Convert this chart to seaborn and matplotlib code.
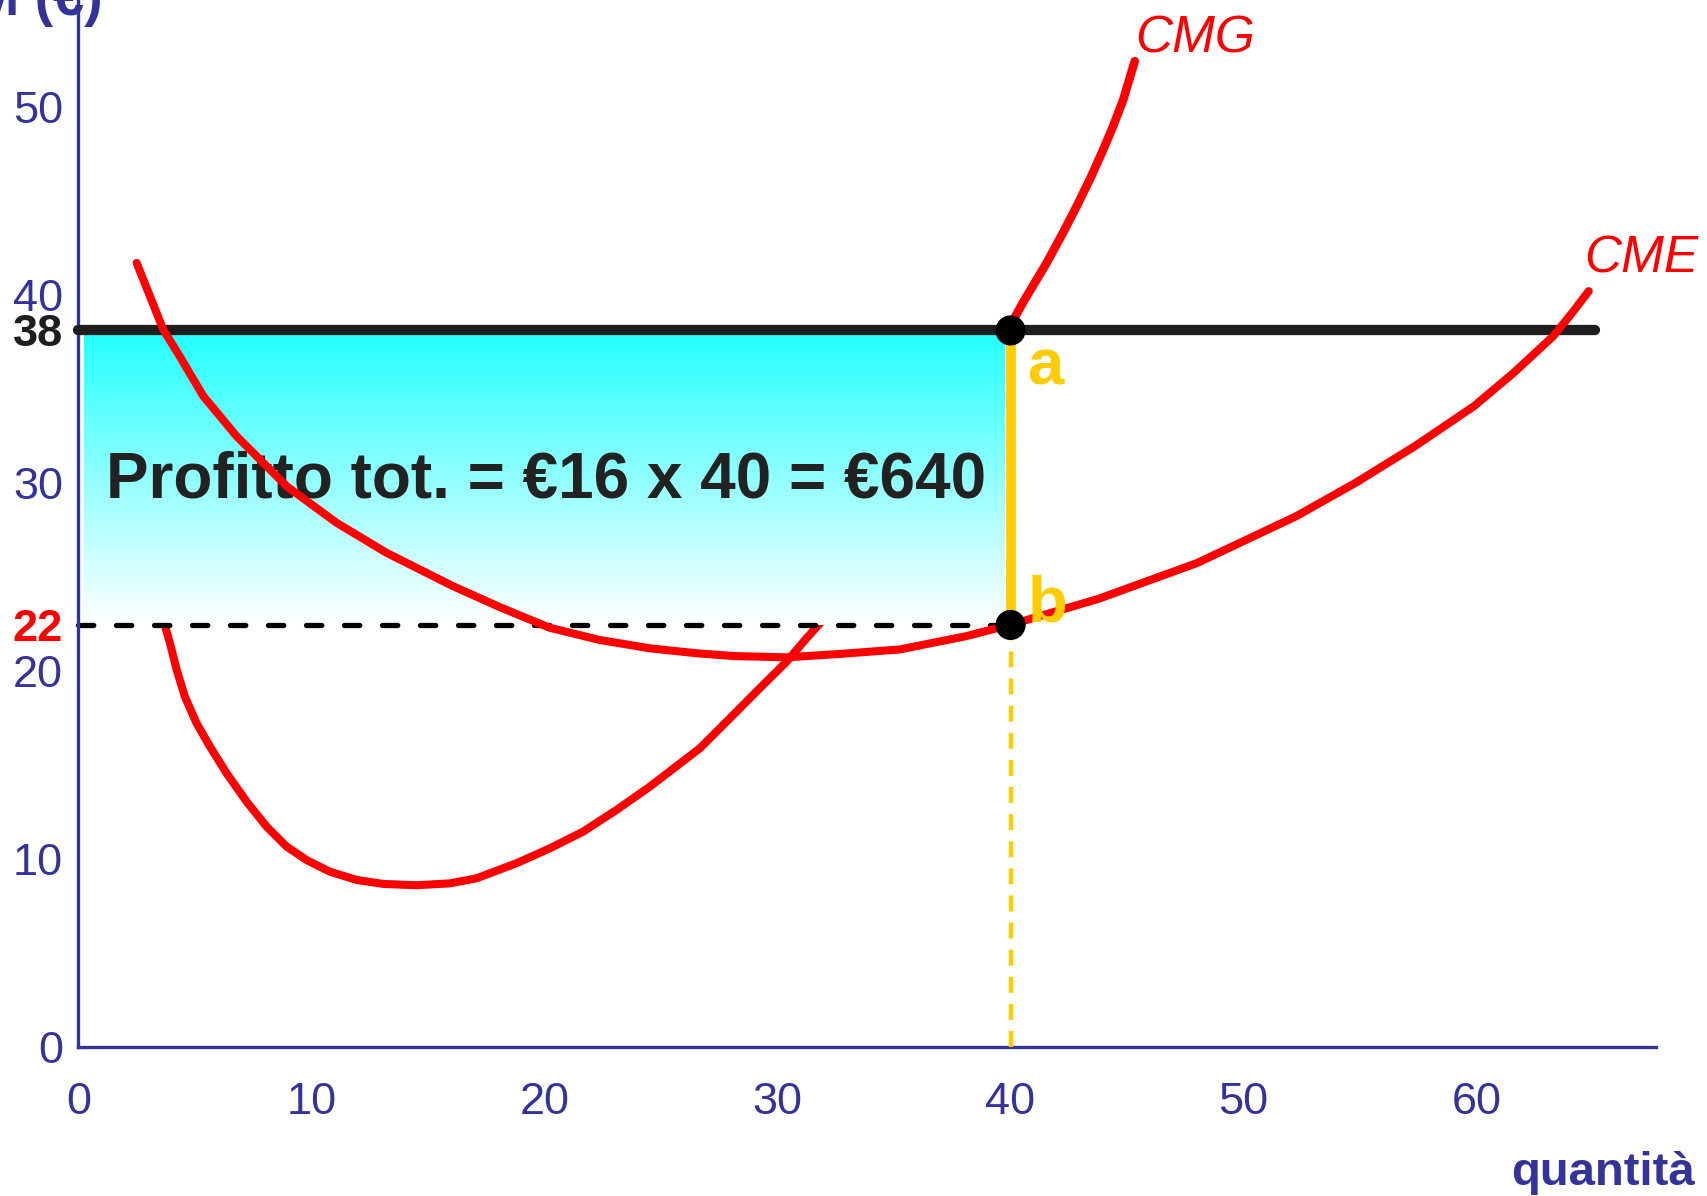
import numpy as np
import matplotlib
matplotlib.use("Agg")
import matplotlib.pyplot as plt
import seaborn as sns
from matplotlib.colors import LinearSegmentedColormap

# ---------------- data ----------------
x_ticks = [0, 10, 20, 30, 40, 50, 60]
y_ticks = [0, 10, 20, 30, 40, 50]

price_level = 38.1        # prezzo
avg_cost_level = 22.45    # costo medio in q*
price_label = "38"
avg_cost_label = "22"
q_star = 40

# CMG (marginal cost) lower branch
cmg_low_q = [3.64, 3.93, 4.22, 4.57, 5.07, 5.65, 6.36, 7.22, 8.08, 8.94,
             9.79, 10.79, 11.94, 13.08, 14.51, 15.94, 17.09, 18.80, 20.23, 21.66,
             23.09, 24.52, 26.67, 28.10, 29.24, 30.39, 31.24, 31.96]
cmg_low_v = [22.72, 21.48, 20.06, 18.64, 17.23, 15.98, 14.57, 13.06, 11.73, 10.67,
             9.96, 9.34, 8.90, 8.69, 8.62, 8.72, 8.99, 9.79, 10.58, 11.47,
             12.62, 13.86, 15.90, 17.67, 19.09, 20.50, 21.74, 22.72]
# CMG upper branch (above the price line)
cmg_up_q = [40.1, 40.54, 41.54, 42.25, 42.83, 43.4, 43.97, 44.4, 44.83, 45.33]
cmg_up_v = [38.6, 39.6, 41.67, 43.29, 44.68, 46.12, 47.69, 48.95, 50.34, 52.41]

# CME (average cost)
cme_q = [2.50, 3.64, 4.36, 5.36, 6.79, 8.94, 11.08, 13.23, 16.08, 18.08,
         20.23, 22.38, 24.52, 26.5, 28.10, 30.39, 32.67, 35.25, 38.11, 40.05,
         43.8, 48.02, 52.26, 54.8, 57.35, 59.89, 61.59, 63.29, 64.14, 64.81]
cme_v = [41.69, 38.15, 36.7, 34.61, 32.48, 29.82, 27.88, 26.28, 24.51, 23.4,
         22.3, 21.65, 21.21, 20.95, 20.80, 20.73, 20.91, 21.15, 21.86, 22.48,
         23.85, 25.75, 28.23, 30.0, 31.95, 34.08, 35.85, 37.80, 39.1, 40.19]

profit_text = "Profitto tot. = €16 x 40 = €640"
x_label = "quantità"
y_label = "CM (€)"

# ---------------- style ----------------
sns.set_theme(style="white")
plt.rcParams['font.family'] = ['Liberation Sans', 'DejaVu Sans']

AXIS_BLUE = '#333399'
RED = '#ff0000'
GOLD = '#ffcc00'
DARK = '#1e1e1e'
CURVE_LW = 5.8

fig = plt.figure(figsize=(17.08, 11.96), dpi=100)
ax = fig.add_axes([0.0459, 0.1242, 0.9696 - 0.0459, 1 - 0.1242])

# profit area gradient (cyan -> white)
grad = np.linspace(0, 1, 256).reshape(-1, 1)
cmap = LinearSegmentedColormap.from_list('cy', ['#ffffff', '#22ffff'])
ax.imshow(grad, extent=[0.235, 39.73, avg_cost_level, price_level], origin='lower',
          aspect='auto', cmap=cmap, zorder=1, interpolation='bilinear')

# CMG
sns.lineplot(x=cmg_low_q, y=cmg_low_v, ax=ax, color=RED, linewidth=CURVE_LW,
             estimator=None, sort=False, zorder=0.5, solid_capstyle='round',
             solid_joinstyle='round')
sns.lineplot(x=cmg_up_q, y=cmg_up_v, ax=ax, color=RED, linewidth=CURVE_LW + 0.4,
             estimator=None, sort=False, zorder=3, solid_capstyle='round',
             solid_joinstyle='round')

# profit text
ax.text(1.17, 29.2, profit_text, fontsize=46, fontweight='bold', color='#222222',
        ha='left', va='baseline', zorder=2)

# average cost dashed line
ax.plot([0, q_star], [avg_cost_level, avg_cost_level], color='black', linewidth=3.8,
        dashes=(2.9, 4.3), dash_capstyle='round', zorder=2.5, clip_on=False)

# yellow vertical segment a-b and dashed drop to the axis
ax.plot([q_star, q_star], [avg_cost_level, price_level], color=GOLD, linewidth=7,
        solid_capstyle='butt', zorder=3)
ax.plot([q_star, q_star], [0, avg_cost_level], color=GOLD, linewidth=3.2,
        dashes=(3.6, 2.5), zorder=3)

# price line
ax.plot([0, 65.1], [price_level, price_level], color=DARK, linewidth=7.4,
        solid_capstyle='round', zorder=3.5, clip_on=False)

# CME
sns.lineplot(x=cme_q, y=cme_v, ax=ax, color=RED, linewidth=CURVE_LW,
             estimator=None, sort=False, zorder=4, solid_capstyle='round',
             solid_joinstyle='round')

# points a and b
sns.scatterplot(x=[q_star, q_star], y=[price_level, avg_cost_level], ax=ax,
                color='black', s=470, edgecolor='none', zorder=5, legend=False)

# labels a, b, curves
ax.text(40.7, 35.23, 'a', fontsize=47, fontweight='bold', color=GOLD,
        ha='left', va='baseline', zorder=6)
ax.text(40.75, 22.65, 'b', fontsize=47, fontweight='bold', color=GOLD,
        ha='left', va='baseline', zorder=6)
ax.text(45.33, 52.85, 'CMG', fontsize=37, style='italic', color=RED,
        ha='left', va='baseline', zorder=6)
ax.text(64.63, 41.2, 'CME', fontsize=37, style='italic', color=RED,
        ha='left', va='baseline', zorder=6, clip_on=False)

# axes
ax.set_xlim(0, 67.7)
ax.set_ylim(0, 55.66)
ax.set_xticks(x_ticks)
ax.set_xticklabels([str(v) for v in x_ticks])
ax.set_yticks(y_ticks + [price_level, avg_cost_level])
ax.set_yticklabels([str(v) for v in y_ticks] + [price_label, avg_cost_label])
ax.tick_params(axis='both', length=0, labelsize=32.5, labelcolor=AXIS_BLUE)
ax.tick_params(axis='x', pad=25)
ax.tick_params(axis='y', pad=11)
ylabs = ax.get_yticklabels()
ylabs[-2].set_color(DARK)
ylabs[-2].set_fontweight('bold')
ylabs[-1].set_color(RED)
ylabs[-1].set_fontweight('bold')

for side in ['top', 'right']:
    ax.spines[side].set_visible(False)
for side in ['left', 'bottom']:
    ax.spines[side].set_color(AXIS_BLUE)
    ax.spines[side].set_linewidth(2.4)
ax.grid(False)
ax.set_xlabel('')
ax.set_ylabel('')

fig.text(0.9924, 0.0092, x_label, fontsize=34, fontweight='bold', color=AXIS_BLUE,
         ha='right', va='baseline')
fig.text(103 / 1708, 1 - 15 / 1196, y_label, fontsize=40, fontweight='bold',
         color=AXIS_BLUE, ha='right', va='baseline')

fig.savefig('out.png', dpi=100)
